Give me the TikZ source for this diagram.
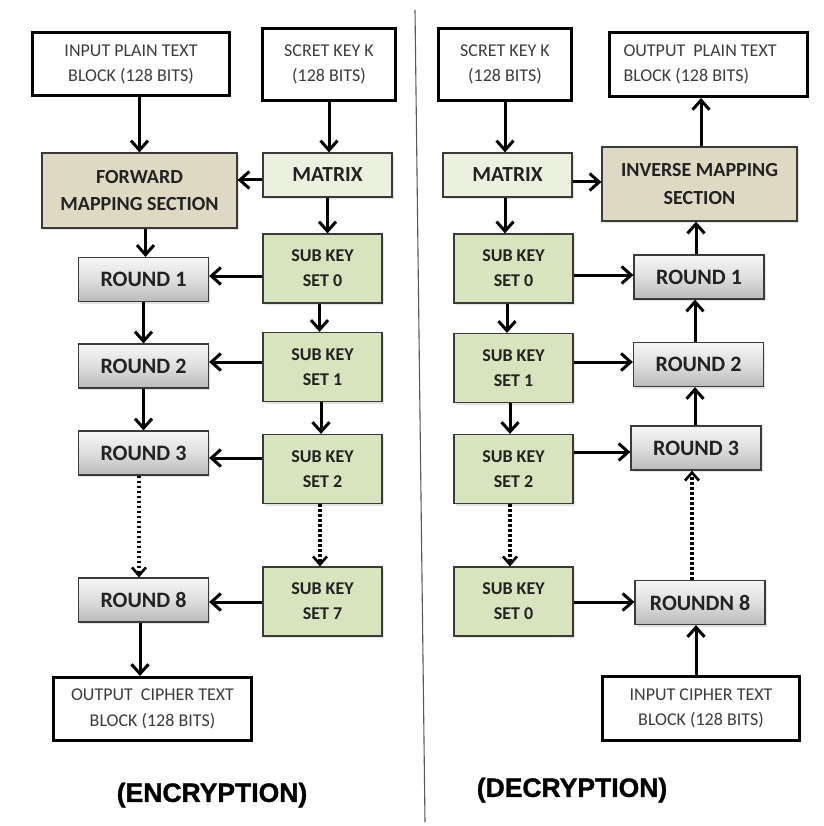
\documentclass[tikz,border=0pt]{standalone}
\usepackage{fontspec}
\setmainfont{Carlito}
\newfontfamily\headfont{Liberation Sans}[FakeBold=1.2]
\usetikzlibrary{arrows.meta,shadows,calc}
\definecolor{tanfill}{HTML}{DDD9C3}
\definecolor{matfill}{HTML}{EBF1DE}
\definecolor{keyfill}{HTML}{D7E4BD}
\definecolor{boxline}{HTML}{3A3A3A}
\definecolor{thintext}{HTML}{3C3C3C}
\definecolor{boldtext}{HTML}{222222}
\definecolor{rtop}{HTML}{F6F6F6}
\definecolor{rmid}{HTML}{DEDEDE}
\definecolor{rbot}{HTML}{BABABA}
\tikzset{
  wbox/.style={draw=black, line width=3pt, fill=white, inner sep=0pt, align=center,
    text=thintext, font=\fontsize{18}{25.5}\selectfont},
  fbox/.style={draw=boxline, line width=1.2pt, inner sep=0pt, align=center, text=boldtext,
    drop shadow={shadow xshift=1.5pt, shadow yshift=-2pt, opacity=0.22}},
  tanbox/.style={fbox, fill=tanfill, minimum width=195pt, minimum height=75pt,
    font=\bfseries\fontsize{20}{27.5}\selectfont},
  matbox/.style={fbox, fill=matfill, minimum width=129pt, minimum height=44pt,
    font=\bfseries\fontsize{21.5}{25}\selectfont},
  keybox/.style={fbox, fill=keyfill, minimum width=119pt, minimum height=69pt,
    font=\bfseries\fontsize{18}{25}\selectfont},
  roundbox/.style={fbox, top color=rtop, bottom color=rbot, middle color=rmid,
    minimum width=130pt, minimum height=44pt, font=\bfseries\fontsize{22}{25}\selectfont},
  arr/.style={line width=3pt, -{Straight Barb[length=9.5pt,width=17pt]}},
  darr/.style={line width=3.2pt, dash pattern=on 2.8pt off 2.2pt,
    -{Straight Barb[length=8pt,width=14pt,line width=2.6pt]}},
  head/.style={inner sep=0pt, font=\headfont\bfseries\fontsize{26.5}{30}\selectfont, text=black},
}
\begin{document}
\begin{tikzpicture}[x=1pt,y=-1pt]
\useasboundingbox (0,0) rectangle (823,826);
\fill[white] (0,0) rectangle (823,826);
% divider
\coordinate (dtop) at (415,10);
\coordinate (dbot) at (425,822);
\draw[line width=1.1pt, draw=black!65] (dtop) -- (dbot);

% ---------- encryption ----------
\node[wbox, minimum width=197pt, minimum height=63pt] (inL) at (131,64.5) {INPUT PLAIN TEXT\\BLOCK (128 BITS)};
\node[wbox, minimum width=133pt, minimum height=72pt] (keyL) at (329,64.5) {SCRET KEY K\\(128 BITS)};
\node[tanbox] (fms) at (139.5,190.5) {FORWARD\\MAPPING SECTION};
\node[matbox] (matL) at (327.5,175) {MATRIX};
\node[keybox] (sk0L) at (322.5,268.5) {SUB KEY\\SET 0};
\node[roundbox] (r1L) at (143.5,279.5) {ROUND 1};
\node[keybox] (sk1L) at (322.5,367) {SUB KEY\\SET 1};
\node[roundbox] (r2L) at (143.5,366) {ROUND 2};
\node[keybox] (sk2L) at (322.5,469) {SUB KEY\\SET 2};
\node[roundbox] (r3L) at (143.5,453) {ROUND 3};
\node[keybox] (sk7L) at (322.5,601.5) {SUB KEY\\SET 7};
\node[roundbox] (r8L) at (143.5,600) {ROUND 8};
\node[wbox, minimum width=198pt, minimum height=63pt] (outL) at (152.5,709) {OUTPUT\hspace{4pt} CIPHER TEXT\\BLOCK (128 BITS)};
\node[head] (enc) at (212,795) {(ENCRYPTION)};

\draw[arr] (inL.south -| fms.north) -- (fms.north);
\draw[arr] (keyL.south) -- (keyL.south |- matL.north);
\draw[arr] ($(matL.west)+(0,5)$) -- ($(matL.west -| fms.east)+(0,5)$);
\draw[arr] (matL.south) -- (matL.south |- sk0L.north);
\draw[arr] ($(fms.south -| r1L.north)+(2,0)$) -- ($(r1L.north)+(2,0)$);
\draw[arr] ($(r1L.east -| sk0L.west)+(0,-3.5)$) -- ($(r1L.east)+(0,-3.5)$);
\draw[arr] ($(sk0L.south)+(-3,0)$) -- ($(sk1L.north)+(-3,0)$);
\draw[arr] (r1L.south) -- (r2L.north);
\draw[arr] ($(r2L.east -| sk1L.west)+(0,-4)$) -- ($(r2L.east)+(0,-4)$);
\draw[arr] (r2L.south) -- (r3L.north);
\draw[arr] ($(sk1L.south)+(-1.5,0)$) -- ($(sk2L.north)+(-1.5,0)$);
\draw[arr] ($(r3L.east -| sk2L.west)+(0,5)$) -- ($(r3L.east)+(0,5)$);
\draw[darr] ($(r3L.south)+(-4.5,0)$) -- ($(r8L.north)+(-4.5,0)$);
\draw[darr] ($(sk2L.south)+(-2.5,0)$) -- ($(sk7L.north)+(-2.5,0)$);
\draw[arr] ($(r8L.east -| sk7L.west)+(0,2)$) -- ($(r8L.east)+(0,2)$);
\draw[arr] ($(r8L.south)+(-3.5,0)$) -- ($(r8L.south |- outL.north)+(-3.5,0)$);

% ---------- decryption ----------
\node[wbox, minimum width=133pt, minimum height=72pt] (keyR) at (505,64.5) {SCRET KEY K\\(128 BITS)};
\node[wbox, minimum width=198pt, minimum height=64pt, text width=170pt, align=flush left] (outR) at (708.5,64.5) {OUTPUT\hspace{4pt} PLAIN TEXT\\BLOCK (128 BITS)};
\node[matbox] (matR) at (507.5,175) {MATRIX};
\node[tanbox, minimum height=74pt] (ims) at (699.5,184) {INVERSE MAPPING\\SECTION};
\node[keybox] (sk0R) at (513.5,268.5) {SUB KEY\\SET 0};
\node[roundbox] (r1R) at (699,277) {ROUND 1};
\node[keybox] (sk1R) at (513.5,368) {SUB KEY\\SET 1};
\node[roundbox] (r2R) at (698.5,364.5) {ROUND 2};
\node[keybox] (sk2R) at (513.5,469) {SUB KEY\\SET 2};
\node[roundbox] (r3R) at (696,448) {ROUND 3};
\node[keybox] (sk0bR) at (513.5,601.5) {SUB KEY\\SET 0};
\node[roundbox] (rNR) at (700,602.5) {ROUNDN 8};
\node[wbox, minimum width=197pt, minimum height=64pt] (inR) at (701,708.5) {INPUT CIPHER TEXT\\BLOCK (128 BITS)};
\node[head] (dec) at (572,790) {(DECRYPTION)};

\draw[arr] (keyR.south) -- (keyR.south |- matR.north);
\draw[arr] ($(matR.south)+(-2.5,0)$) -- ($(matR.south |- sk0R.north)+(-2.5,0)$);
\draw[arr] ($(matR.east)+(0,7)$) -- ($(matR.east -| ims.west)+(0,7)$);
\draw[arr] ($(ims.north)+(1.5,0)$) -- ($(ims.north |- outR.south)+(1.5,0)$);
\draw[arr] ($(r1R.north)+(-3,0)$) -- ($(r1R.north |- ims.south)+(-3,0)$);
\draw[arr] ($(sk0R.east)+(0,6.5)$) -- ($(sk0R.east -| r1R.west)+(0,6.5)$);
\draw[arr] ($(sk0R.south)+(-6.5,0)$) -- ($(sk1R.north)+(-6.5,0)$);
\draw[arr] ($(sk1R.east)+(0,-6)$) -- ($(sk1R.east -| r2R.west)+(0,-6)$);
\draw[arr] ($(r2R.north)+(-3.5,0)$) -- ($(r2R.north |- r1R.south)+(-3.5,0)$);
\draw[arr] ($(sk1R.south)+(-3.5,0)$) -- ($(sk2R.north)+(-3.5,0)$);
\draw[arr] ($(sk2R.east)+(0,-17)$) -- ($(sk2R.east -| r3R.west)+(0,-17)$);
\draw[arr] ($(r3R.north)+(-1,0)$) -- ($(r3R.north |- r2R.south)+(-1,0)$);
\draw[darr] ($(sk2R.south)+(-3.5,0)$) -- ($(sk0bR.north)+(-3.5,0)$);
\draw[darr] ($(rNR.north)+(-8,0)$) -- ($(rNR.north |- r3R.south)+(-8,0)$);
\draw[arr] ($(sk0bR.east)+(0,0.5)$) -- ($(sk0bR.east -| rNR.west)+(0,0.5)$);
\draw[arr] ($(inR.north)+(-5,0)$) -- ($(inR.north |- rNR.south)+(-5,0)$);
\end{tikzpicture}
\end{document}
